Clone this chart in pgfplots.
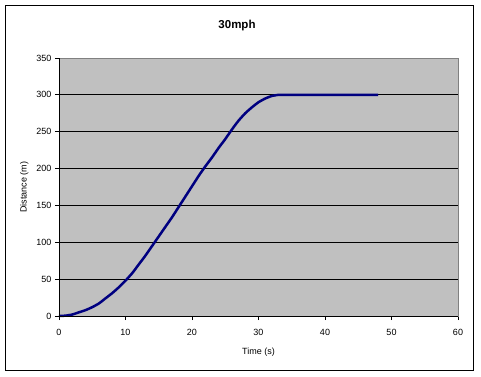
\documentclass[border=0pt]{standalone}
\usepackage{pgfplots}
\pgfplotsset{compat=1.18}
\usepackage{fontspec}
\setmainfont{Liberation Sans}
\definecolor{plotgray}{HTML}{C0C0C0}
\definecolor{navyline}{HTML}{000080}
\definecolor{frame}{HTML}{808080}
\begin{document}
\begin{tikzpicture}[x=1pt,y=1pt]
\useasboundingbox (0,0) rectangle (481,376);
\draw[black, line width=1pt] (5.5,6) rectangle (473.5,370.5);
\node[font=\fontsize{11.5}{13}\selectfont\bfseries] at (237,350) {30mph};
\begin{axis}[
  at={(59pt,60pt)}, anchor=south west,
  scale only axis, width=399pt, height=258pt,
  xmin=0, xmax=60, ymin=0, ymax=350,
  xtick={0,10,...,60}, ytick={0,50,...,350},
  tick align=outside, major tick length=4pt,
  tick style={black, line width=0.8pt},
  axis background/.style={fill=plotgray},
  axis line style={frame, line width=0.8pt},
  axis x line*=box, axis y line*=box,
  ymajorgrids, grid style={black, line width=0.8pt},
  xtick pos=bottom, ytick pos=left,
  tick label style={font=\fontsize{9}{11}\selectfont},
  xticklabel style={yshift=-6pt},
  /pgf/number format/assume math mode=true,
  xlabel={Time (s)}, ylabel={Distance (m)},
  label style={font=\fontsize{9}{11}\selectfont},
  xlabel style={yshift=-5pt},
  ylabel style={yshift=1pt},
  clip=false,
]
\addplot[navyline, line width=2.5pt, smooth, tension=0.3] coordinates {
(0,0) (1,0.5) (2,2) (3,5) (4,8) (5,12) (6,17) (7,24) (8,31) (9,39) (10,48)
(11,58) (12,70) (13,82) (14,95) (15,108) (16,121) (17,134) (18,148) (19,162)
(20,176) (21,190) (22,203) (23,215) (24,228) (25,240) (26,253) (27,265)
(28,275) (29,283) (30,290) (31,295) (32,298.5) (33,300) (34,300) (48,300)
};
\draw[black, line width=0.8pt] (axis cs:0,0) -- (axis cs:60,0);
\draw[black, line width=0.8pt] (axis cs:0,0) -- (axis cs:0,350);
\end{axis}
\end{tikzpicture}
\end{document}
